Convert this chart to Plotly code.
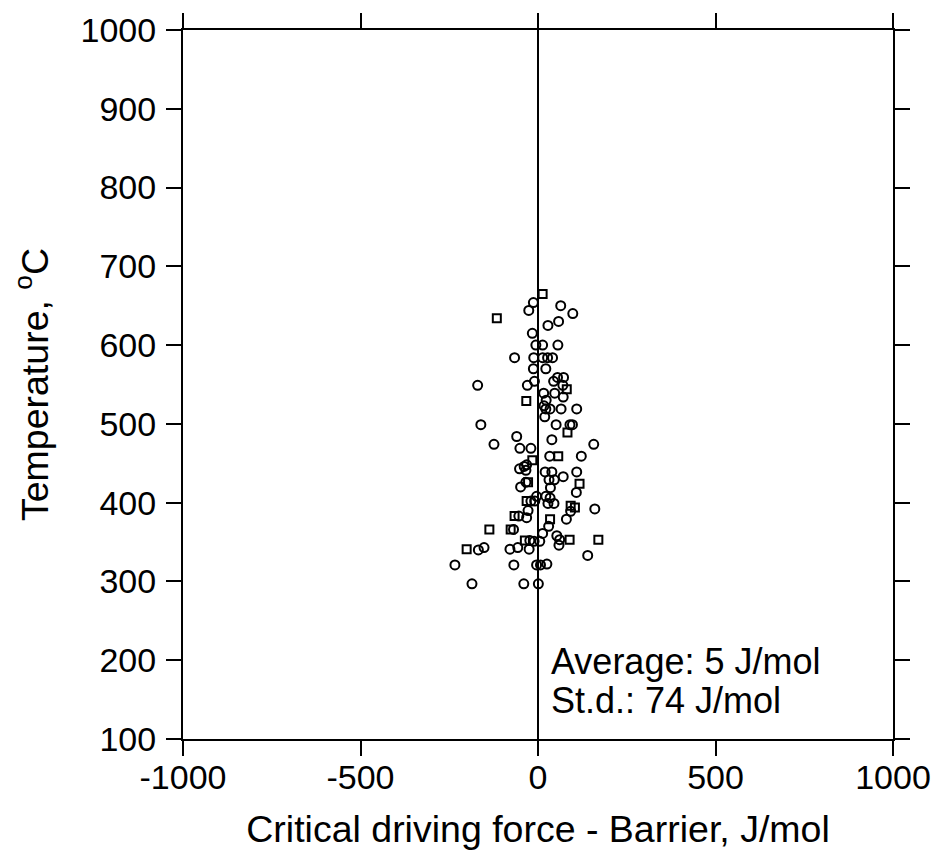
import plotly.graph_objects as go

# critical driving force - barrier (J/mol) vs temperature (C)
circle_x = [-13, -26, 64, 98, 28, 58, -16, -6, 13, 56, -66, -12, 13, 27, 41,
            -13, 22, -170, -30, -10, 44, 55, 72, 70, 16, 47, 71, 23, 17, 22, 34,
            65, 109, 19, -161, 51, 90, 97, -60, 39, -124, -51, -20, 157, 33,
            122, -32, -39, -52, -34, 20, 39, 109, 71, 31, 46, -34, -49, 35, 108,
            -4, 22, 34, -20, -9, 28, 45, 92, 160, -28, -54, -32, 80, 30, -69,
            13, 53, 61, 59, -23, -11, 5, -168, -152, -79, -57, -25, 140, -234,
            -68, -4, 7, 25, -186, -40, 1]
circle_y = [654, 644, 650, 640, 625, 630, 615, 600, 600, 600, 584, 584, 584, 584, 584,
            570, 570, 549, 549, 554, 554, 559, 559, 549, 539, 539, 534, 530, 523, 519, 519,
            519, 519, 509, 499, 499, 499, 499, 484, 480, 474, 469, 469, 474, 459,
            459, 448, 446, 443, 441, 439, 439, 439, 433, 429, 429, 426, 420, 419, 413,
            408, 408, 406, 402, 402, 399, 399, 389, 392, 390, 383, 381, 379, 370, 366,
            361, 358, 353, 346, 352, 351, 351, 340, 343, 341, 343, 341, 333, 321,
            321, 321, 321, 322, 297, 297, 297]

square_x = [13, -116, 81, -33, 83, -16, 57, -28, 117, -32, 92, 104, -66, 34,
            -137, -77, 89, 170, -37, -201]
square_y = [665, 634, 544, 529, 489, 454, 459, 426, 424, 402, 396, 394, 383, 379,
            366, 366, 353, 353, 352, 341]

x_ticks = [-1000, -500, 0, 500, 1000]
x_labels = ["-1000", "-500", "0", "500", "1000"]
y_ticks = [100, 200, 300, 400, 500, 600, 700, 800, 900, 1000]

stats_lines = ["Average: 5 J/mol", "St.d.: 74 J/mol"]

FONT = "Liberation Sans, Arial, sans-serif"
TICK_SIZE = 34
TITLE_SIZE = 37.5

fig = go.Figure()
marker_line = dict(color="black", width=2)
fig.add_trace(go.Scatter(
    x=circle_x, y=circle_y, mode="markers",
    marker=dict(symbol="circle-open", size=9, color="black", line=marker_line),
    showlegend=False,
))
fig.add_trace(go.Scatter(
    x=square_x, y=square_y, mode="markers",
    marker=dict(symbol="square-open", size=8, color="black", line=marker_line),
    showlegend=False,
))

for text, ypos in zip(stats_lines, [0.110, 0.054]):
    fig.add_annotation(
        x=0.5155, y=ypos, xref="paper", yref="paper", xanchor="left",
        yanchor="middle", text=text, showarrow=False,
        font=dict(family=FONT, size=36, color="black"),
    )

axis_common = dict(
    showline=True, linecolor="black", linewidth=2, mirror="ticks",
    ticks="outside", ticklen=15, tickwidth=2, tickcolor="black",
    showgrid=False, automargin=False,
    tickfont=dict(family=FONT, size=TICK_SIZE, color="black"),
)

fig.update_xaxes(
    range=[-1000, 1000], tickvals=x_ticks, ticktext=x_labels, zeroline=True,
    zerolinecolor="black", zerolinewidth=2, ticklabelstandoff=-8,
    title=dict(text="Critical driving force - Barrier, J/mol",
               font=dict(family=FONT, size=TITLE_SIZE, color="black"), standoff=21),
    **axis_common,
)
fig.update_yaxes(
    range=[100, 1000], tickvals=y_ticks, zeroline=False, ticklabelstandoff=3,
    title=dict(text="Temperature, <sup>o</sup>C",
               font=dict(family=FONT, size=TITLE_SIZE, color="black"), standoff=22),
    **axis_common,
)

# page body adds an 8px offset, so margins are trimmed to keep the plot box in place
fig.update_layout(
    width=951, height=854,
    margin=dict(l=175, r=66, t=22, b=123),
    plot_bgcolor="white", paper_bgcolor="white",
)

fig.write_html("out.html")
